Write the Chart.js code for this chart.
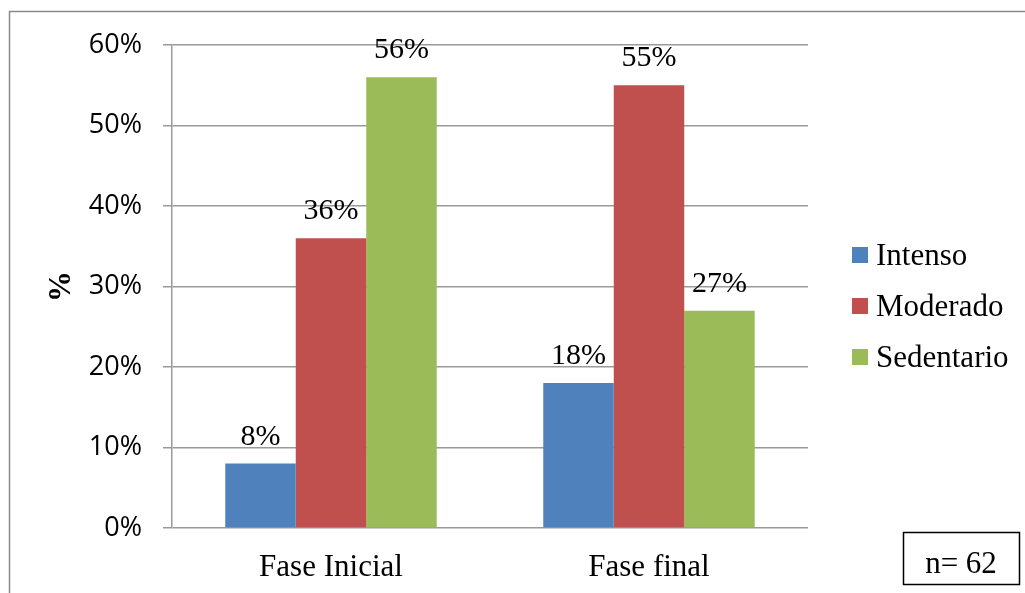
<!DOCTYPE html>
<html>
<head>
<meta charset="utf-8">
<script src="https://cdn.jsdelivr.net/npm/chart.js@4/dist/chart.umd.min.js"></script>
<style>
  html, body { margin: 0; padding: 0; background: #ffffff; }
  #chart { display: block; }
</style>
</head>
<body>
<canvas id="chart" width="1025" height="593"></canvas>
<script>
// Physical activity level by study phase (percent of participants)
const categories = ['Fase Inicial', 'Fase final'];
const seriesNames = ['Intenso', 'Moderado', 'Sedentario'];
const intenso = [8, 18];
const moderado = [36, 55];
const sedentario = [56, 27];
const seriesColors = ['#4F81BD', '#C0504D', '#9BBB59'];
const yTicks = [0, 10, 20, 30, 40, 50, 60];
const sampleNote = 'n= 62';

const SERIF = '"Liberation Serif", "Times New Roman", serif';
const SANS = '"Open Sans", "Liberation Sans", sans-serif';
const GRID = '#9a9a9a';

// Outer frame, value labels, legend and sample-size box
const decorations = {
  id: 'decorations',
  beforeDraw(chart) {
    const ctx = chart.ctx;
    ctx.save();
    ctx.fillStyle = '#ffffff';
    ctx.fillRect(0, 0, chart.width, chart.height);
    ctx.strokeStyle = '#8a8a8a';
    ctx.lineWidth = 1.5;
    ctx.beginPath();
    ctx.moveTo(9.5, chart.height + 5);
    ctx.lineTo(9.5, 11.5);
    ctx.lineTo(chart.width + 5, 11.5);
    ctx.stroke();
    ctx.restore();
  },
  afterDatasetsDraw(chart) {
    const ctx = chart.ctx;
    ctx.save();
    ctx.fillStyle = '#000000';
    ctx.font = '30px ' + SERIF;
    ctx.textAlign = 'center';
    ctx.textBaseline = 'alphabetic';
    chart.data.datasets.forEach((ds, i) => {
      chart.getDatasetMeta(i).data.forEach((bar, j) => {
        ctx.fillText(ds.data[j] + '%', bar.x, bar.y - 19);
      });
    });
    ctx.restore();
  },
  afterDraw(chart) {
    const ctx = chart.ctx;
    ctx.save();
    // legend
    ctx.font = '31px ' + SERIF;
    ctx.textAlign = 'left';
    ctx.textBaseline = 'alphabetic';
    chart.data.datasets.forEach((ds, i) => {
      const cy = 255 + i * 51;
      ctx.fillStyle = ds.backgroundColor;
      ctx.fillRect(852, cy - 8, 16, 16);
      ctx.fillStyle = '#000000';
      ctx.fillText(ds.label, 876, cy + 10);
    });
    // sample size box
    ctx.strokeStyle = '#000000';
    ctx.lineWidth = 1.5;
    ctx.strokeRect(903.5, 532.5, 116, 52);
    ctx.textAlign = 'center';
    ctx.fillText(sampleNote, 961, 573);
    ctx.restore();
  }
};

new Chart(document.getElementById('chart'), {
  type: 'bar',
  data: {
    labels: categories,
    datasets: [
      { label: seriesNames[0], data: intenso, backgroundColor: seriesColors[0] },
      { label: seriesNames[1], data: moderado, backgroundColor: seriesColors[1] },
      { label: seriesNames[2], data: sedentario, backgroundColor: seriesColors[2] }
    ]
  },
  options: {
    responsive: false,
    animation: false,
    layout: { padding: { top: 45, right: 217, bottom: 0, left: 0 } },
    datasets: { bar: { categoryPercentage: 0.665, barPercentage: 1, borderWidth: 0 } },
    plugins: {
      legend: { display: false },
      tooltip: { enabled: false },
      title: { display: false }
    },
    scales: {
      x: {
        grid: { display: false, drawTicks: false },
        border: { display: false },
        ticks: { color: '#000000', font: { family: SERIF, size: 31 }, padding: 21, maxRotation: 0 },
        afterFit(scale) { scale.height = 65; }
      },
      y: {
        min: 0,
        max: 60,
        afterBuildTicks(scale) { scale.ticks = yTicks.map(v => ({ value: v })); },
        grid: { color: GRID, lineWidth: 1.5, tickLength: 9, drawTicks: true },
        border: { display: true, color: GRID, width: 1.5 },
        ticks: {
          color: '#000000',
          font: { family: SANS, size: 27 },
          padding: 21,
          callback: v => v + '%'
        },
        title: {
          display: true,
          text: '%',
          color: '#000000',
          font: { family: SERIF, size: 31, weight: 'bold' },
          padding: { top: 43, bottom: 0 }
        },
        afterFit(scale) { scale.width = 172; }
      }
    }
  },
  plugins: [decorations]
});
</script>
</body>
</html>
